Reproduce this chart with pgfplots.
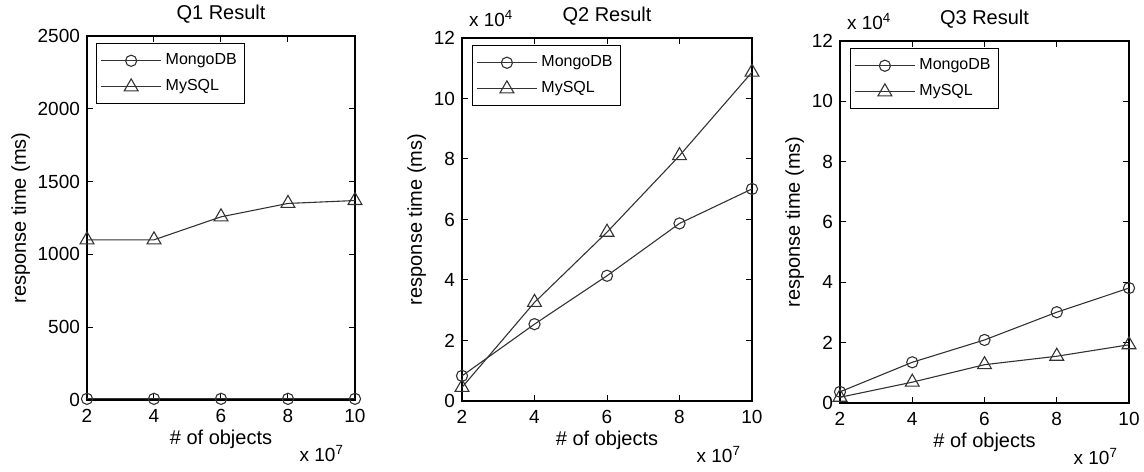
\documentclass[border=0pt]{standalone}
\usepackage{pgfplots}
\pgfplotsset{compat=1.18}
\usepackage{fontspec}
\setmainfont{Liberation Sans}
\definecolor{ln}{gray}{0.2}
\pgfplotsset{
  panel/.style={
    scale only axis,
    clip=false,
    xmin=2, xmax=10,
    xtick={2,4,6,8,10},
    tick align=inside,
    major tick length=3pt,
    tick style={black, line width=0.5pt},
    axis line style={black, line width=0.6pt},
    /pgf/number format/assume math mode=true,
    /pgf/number format/1000 sep={},
    ticklabel style={font=\fontsize{9.5}{11}\selectfont},
    xticklabel style={yshift=-1pt},
    label style={font=\fontsize{10}{12}\selectfont},
    title style={font=\fontsize{10}{12}\selectfont, yshift=-3pt},
    xlabel={\# of objects},
    ylabel={response time (ms)},
    xlabel style={yshift=3pt},
    ylabel style={yshift=-3pt},
    legend cell align=left,
    legend style={at={(0.034,0.98)}, anchor=north west,
      font=\fontsize{8}{10}\selectfont, draw=black, line width=0.5pt,
      inner xsep=2pt, inner ysep=3pt, row sep=2pt},
    legend image code/.code={\draw[mark repeat=2,mark phase=2] plot coordinates {(0pt,0pt)(15pt,0pt)(30pt,0pt)};},
    every axis plot/.append style={ln, line width=0.55pt, mark options={fill=none, solid, line width=0.55pt}},
  },
  mongo/.style={mark=o, mark size=2.8pt},
  mysql/.style={mark=triangle, mark size=4pt},
}
\newcommand{\xpow}{\node[anchor=north east, font=\fontsize{9.5}{11}\selectfont] at (rel axis cs:1,0) [yshift=-19pt, xshift=-2pt] {x 10\textsuperscript{7}};}
\newcommand{\ypow}{\node[anchor=south west, font=\fontsize{9.5}{11}\selectfont] at (rel axis cs:0,1) [yshift=2pt, xshift=0pt] {x 10\textsuperscript{4}};}
\begin{document}
\begin{tikzpicture}
\useasboundingbox (0,0) rectangle (572pt,235.5pt);
% Panel 1
\begin{axis}[panel, at={(43.5pt,35.5pt)}, width=134pt, height=182pt,
  ymin=0, ymax=2500, ytick={0,500,1000,1500,2000,2500},
  title={Q1 Result}]
\addplot[mongo] coordinates {(2,8) (4,8) (6,8) (8,8) (10,8)};
\addlegendentry{MongoDB}
\addplot[mysql] coordinates {(2,1100) (4,1100) (6,1258) (8,1350) (10,1370)};
\addlegendentry{MySQL}
\xpow
\end{axis}
% Panel 2
\begin{axis}[panel, at={(231pt,35pt)}, width=145pt, height=181.5pt,
  ymin=0, ymax=12, ytick={0,2,4,6,8,10,12},
  title={Q2 Result}]
\addplot[mongo] coordinates {(2,0.83) (4,2.54) (6,4.14) (8,5.87) (10,7.01)};
\addlegendentry{MongoDB}
\addplot[mysql] coordinates {(2,0.45) (4,3.26) (6,5.58) (8,8.11) (10,10.87)};
\addlegendentry{MySQL}
\xpow
\ypow
\end{axis}
% Panel 3
\begin{axis}[panel, at={(420pt,34pt)}, width=144.5pt, height=181pt,
  ymin=0, ymax=12, ytick={0,2,4,6,8,10,12},
  title={Q3 Result}]
\addplot[mongo] coordinates {(2,0.37) (4,1.35) (6,2.09) (8,3.01) (10,3.81)};
\addlegendentry{MongoDB}
\addplot[mysql] coordinates {(2,0.19) (4,0.69) (6,1.27) (8,1.55) (10,1.93)};
\addlegendentry{MySQL}
\xpow
\ypow
\end{axis}
\end{tikzpicture}
\end{document}
